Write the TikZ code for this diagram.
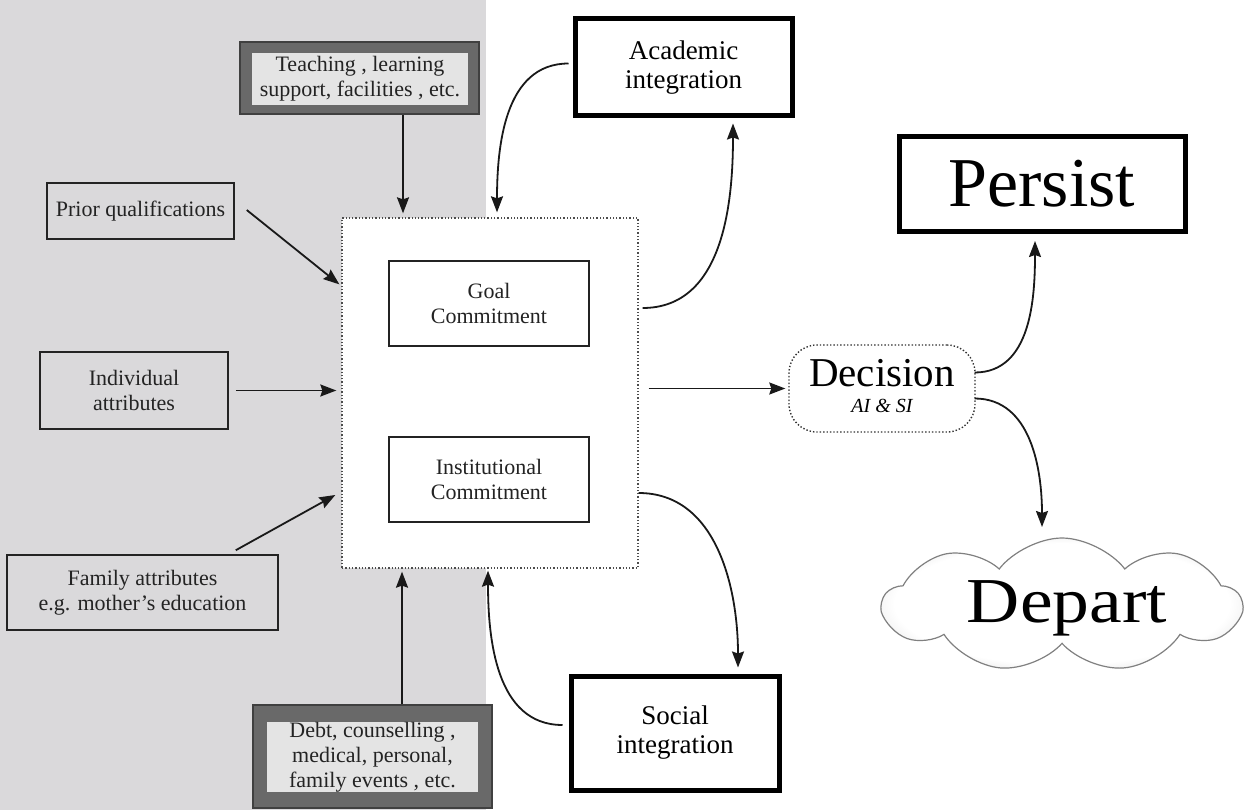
\documentclass[tikz,border=0pt]{standalone}
\usepackage{fontspec}
\usepackage{graphicx}
\setmainfont{Liberation Serif}
\usetikzlibrary{arrows.meta,shapes.symbols,calc}
\definecolor{bggray}{RGB}{218,217,219}
\definecolor{hatch}{RGB}{105,105,105}
\definecolor{innergray}{RGB}{228,228,228}
\definecolor{txt}{RGB}{35,35,35}
\pgfdeclareradialshading{cloudshade}{\pgfpoint{0bp}{0bp}}{color(0bp)=(white); color(23bp)=(white); color(33bp)=(black!17); color(50bp)=(black!25)}
\begin{document}
\begin{tikzpicture}[x=1pt,y=-1pt,
  smallbox/.style={draw=txt,line width=1.5pt,fill=bggray,text=txt,align=center,
    font=\fontsize{22}{25}\selectfont,inner sep=0pt},
  hatchbox/.style={draw=black!75,line width=1.2pt,fill=hatch,inner sep=0pt},
  hatchinner/.style={fill=innergray,text=txt,align=center,inner sep=0pt,
    font=\fontsize{22}{25}\selectfont},
  innerbox/.style={draw=txt,line width=1.5pt,fill=white,text=txt,align=center,
    font=\fontsize{22}{25}\selectfont,inner sep=0pt,minimum width=200pt,minimum height=85pt},
  thickbox/.style={draw=black,line width=5pt,fill=white,align=center,inner sep=0pt,
    font=\fontsize{27}{29}\selectfont},
  arr/.style={draw=black!90,line width=1.8pt,-{Stealth[length=16pt,width=12pt,inset=2pt]}},
]
\useasboundingbox (0,0) rectangle (1244,810);
\fill[white] (0,0) rectangle (1244,810);
\fill[bggray] (0,0) rectangle (486,810);

% left inputs
\node[smallbox,minimum width=187pt,minimum height=56pt] (prior) at (140.5,211) {Prior qualifications};
\node[smallbox,minimum width=188pt,minimum height=77pt] (indiv) at (134,390.5) {Individual\\attributes};
\node[smallbox,minimum width=271pt,minimum height=75pt] (family) at (142.5,592.5) {Family attributes\\e.g. mother's education};

% hatched boxes
\node[hatchbox,minimum width=239pt,minimum height=72pt] (teach) at (359.5,78) {};
\node[hatchinner,minimum width=216pt,minimum height=52pt] (teachtxt) at (360,79) {Teaching , learning\\support, facilities , etc.};
\node[hatchbox,minimum width=239pt,minimum height=103pt] (debt) at (372.5,756.5) {};
\node[hatchinner,minimum width=211pt,minimum height=70pt] (debttxt) at (372.5,757) {Debt, counselling ,\\medical, personal,\\family events , etc.};

% central box
\node[draw=black!70,dotted,line width=1.3pt,fill=white,minimum width=296pt,minimum height=350pt,inner sep=0pt] (central) at (490,393) {};
\node[innerbox] (goal) at (489,303.5) {Goal\\Commitment};
\node[innerbox] (inst) at (489,479.5) {Institutional\\Commitment};

% integration boxes
\node[thickbox,minimum width=217pt,minimum height=97pt] (acad) at (683.5,67.5) {Academic\\integration};
\node[thickbox,minimum width=208pt,minimum height=114pt] (social) at (675,733) {Social\\integration};

% decision
\node[draw=black!80,dotted,line width=1.4pt,rounded corners=28pt,minimum width=186pt,minimum height=87pt] (decision) at (882,388.5) {};
\node[anchor=base,font=\fontsize{41}{41}\selectfont,inner sep=0pt] (dectext) at (882,386) {Decision};
\node[anchor=base,font=\fontsize{20}{20}\selectfont\itshape,inner sep=0pt] (decsub) at (882,412) {AI \& SI};

% outcomes
\node[draw=black,line width=5pt,fill=white,minimum width=286pt,minimum height=95pt,inner sep=0pt,
  font=\fontsize{70}{70}\selectfont] (persist) at (1042,184) {Persist};
\node[cloud,cloud puffs=9,cloud puff arc=105,aspect=2.65,cloud ignores aspect,
  minimum width=358pt,minimum height=134pt,draw=black!50,line width=1.2pt,
  shading=cloudshade,inner sep=0pt] (depart) at (1062,605) {};
\node[font=\fontsize{64}{64}\selectfont,inner sep=0pt,anchor=base] (departtxt) at (1067,622) {\scalebox{1.15}[1]{Depart}};

% connectors
\draw[arr] ([xshift=12pt,yshift=1pt]prior.east) -- ([xshift=-2pt,yshift=-67pt]central.north west);
\draw[arr] ([xshift=7pt]indiv.east) -- ([xshift=-5pt]central.west |- indiv.east);
\draw[arr] ([xshift=-43pt,yshift=4pt]family.north east) -- ([xshift=-6pt,yshift=-102pt]central.west);
\draw[arr] ([xshift=43.5pt]teach.south) -- ([xshift=-87pt,yshift=4pt]central.north);
\draw[arr] ([xshift=29.5pt]debt.north) -- ([xshift=-88pt,yshift=-3pt]central.south);

\draw[arr] ([xshift=-4pt,yshift=4pt]acad.west) to[out=180,in=90] ([xshift=7pt,yshift=5pt]central.north);
\draw[arr] ([xshift=4pt,yshift=85pt]central.east) to[out=0,in=-90] ([xshift=49.5pt,yshift=-5pt]acad.south);
\draw[arr] ([xshift=-6pt,yshift=8pt]social.west) to[out=180,in=-90] ([xshift=-2pt,yshift=-2pt]central.south);
\draw[arr] ([yshift=-100pt]central.east) to[out=0,in=90] ([xshift=63pt,yshift=6pt]social.north);

\draw[arr] ([xshift=10pt,yshift=4.5pt]central.east) -- ([xshift=-3pt]decision.west);
\draw[arr] ([xshift=-1pt,yshift=16pt]decision.east) to[out=0,in=-90] ([xshift=-7pt,yshift=-7pt]persist.south);
\draw[arr] ([xshift=-1pt,yshift=-10pt]decision.east) to[out=0,in=90] ([xshift=-20pt,yshift=78pt]depart.center);
\end{tikzpicture}
\end{document}
